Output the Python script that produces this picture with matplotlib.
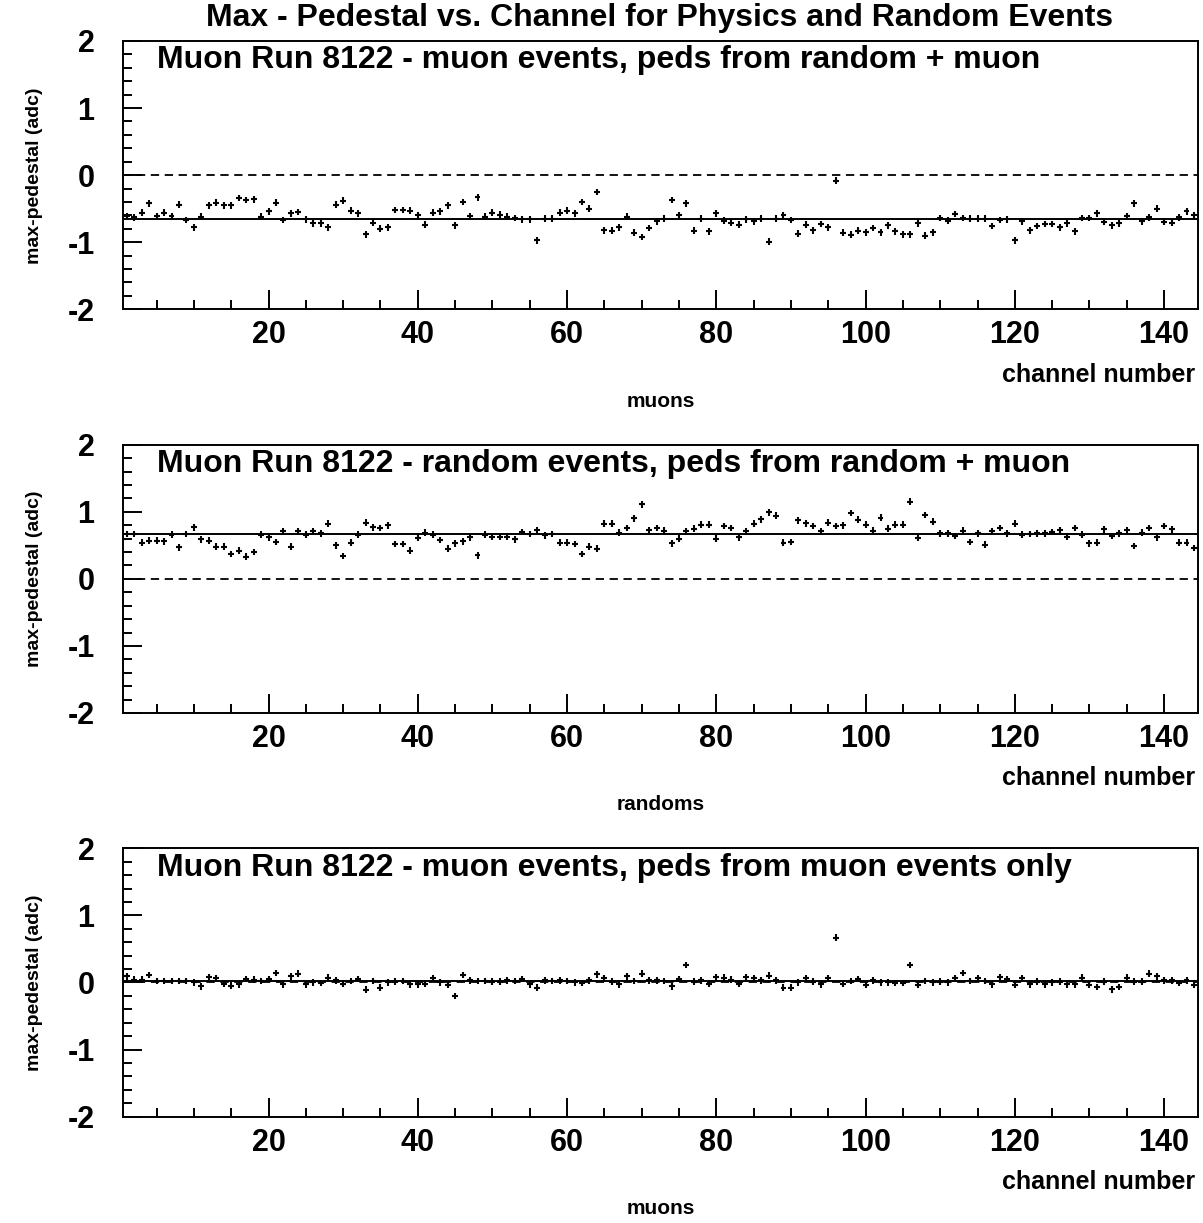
import matplotlib
matplotlib.use("Agg")
import matplotlib.pyplot as plt
import numpy as np
from matplotlib.ticker import MultipleLocator

plt.rcParams['font.family'] = ['Liberation Sans', 'DejaVu Sans']
plt.rcParams['font.weight'] = 'bold'
plt.rcParams['axes.unicode_minus'] = False

# --- data (max - pedestal per channel) ---
channels = np.arange(1, 145)

muon_rand_peds = [
    -0.61, -0.63, -0.56, -0.42, -0.61, -0.56, -0.61, -0.44, -0.67, -0.78,
    -0.62, -0.45, -0.41, -0.45, -0.45, -0.34, -0.37, -0.36, -0.62, -0.54,
    -0.41, -0.67, -0.57, -0.55, -0.66, -0.72, -0.72, -0.78, -0.44, -0.38,
    -0.53, -0.57, -0.88, -0.71, -0.80, -0.78, -0.52, -0.52, -0.53, -0.60,
    -0.74, -0.56, -0.54, -0.45, -0.75, -0.40, -0.61, -0.33, -0.62, -0.56,
    -0.59, -0.62, -0.64, -0.66, -0.66, -0.97, -0.65, -0.65, -0.56, -0.53,
    -0.57, -0.40, -0.50, -0.25, -0.82, -0.83, -0.78, -0.62, -0.86, -0.92,
    -0.79, -0.69, -0.65, -0.37, -0.60, -0.42, -0.83, -0.65, -0.84, -0.57,
    -0.68, -0.71, -0.74, -0.66, -0.69, -0.65, -0.99, -0.65, -0.60, -0.67,
    -0.87, -0.74, -0.82, -0.73, -0.78, -0.08, -0.86, -0.89, -0.83, -0.85,
    -0.79, -0.85, -0.75, -0.84, -0.88, -0.88, -0.72, -0.90, -0.85, -0.64,
    -0.68, -0.58, -0.64, -0.65, -0.65, -0.65, -0.76, -0.67, -0.66, -0.97,
    -0.69, -0.82, -0.76, -0.73, -0.73, -0.78, -0.72, -0.84, -0.64, -0.64,
    -0.57, -0.70, -0.75, -0.72, -0.61, -0.42, -0.69, -0.63, -0.50, -0.70,
    -0.71, -0.63, -0.54, -0.60,
]

random_rand_peds = [
    0.67, 0.67, 0.54, 0.57, 0.57, 0.56, 0.66, 0.47, 0.67, 0.77,
    0.59, 0.57, 0.48, 0.48, 0.37, 0.42, 0.33, 0.40, 0.66, 0.62,
    0.55, 0.71, 0.48, 0.71, 0.66, 0.71, 0.68, 0.82, 0.50, 0.34,
    0.54, 0.66, 0.84, 0.77, 0.76, 0.80, 0.52, 0.52, 0.42, 0.61,
    0.69, 0.66, 0.58, 0.45, 0.53, 0.56, 0.62, 0.35, 0.66, 0.63,
    0.63, 0.63, 0.59, 0.70, 0.67, 0.73, 0.65, 0.67, 0.54, 0.54,
    0.52, 0.37, 0.48, 0.45, 0.82, 0.82, 0.69, 0.76, 0.90, 1.11,
    0.73, 0.76, 0.72, 0.53, 0.60, 0.71, 0.75, 0.81, 0.81, 0.60,
    0.79, 0.76, 0.62, 0.71, 0.82, 0.89, 0.99, 0.94, 0.54, 0.55,
    0.87, 0.83, 0.79, 0.71, 0.84, 0.79, 0.80, 0.98, 0.88, 0.81,
    0.72, 0.91, 0.75, 0.81, 0.81, 1.15, 0.61, 0.95, 0.85, 0.68,
    0.68, 0.64, 0.72, 0.55, 0.68, 0.51, 0.71, 0.76, 0.68, 0.82,
    0.66, 0.67, 0.68, 0.68, 0.70, 0.73, 0.63, 0.76, 0.66, 0.53,
    0.54, 0.74, 0.64, 0.68, 0.73, 0.49, 0.69, 0.76, 0.62, 0.79,
    0.74, 0.54, 0.54, 0.46,
]

muon_muon_peds = [
    0.09, 0.04, 0.04, 0.11, 0.02, 0.02, 0.02, 0.02, 0.02, 0.00,
    -0.06, 0.08, 0.06, -0.02, -0.05, -0.03, 0.05, 0.04, 0.02, 0.05,
    0.14, -0.03, 0.09, 0.13, -0.03, 0.00, -0.01, 0.07, 0.03, -0.02,
    0.02, 0.05, -0.11, 0.02, -0.08, 0.00, 0.01, 0.02, -0.03, -0.03,
    -0.02, 0.06, 0.00, -0.04, -0.20, 0.11, 0.03, 0.02, 0.02, 0.01,
    0.01, 0.03, 0.02, 0.05, -0.03, -0.08, 0.03, 0.02, 0.03, 0.02,
    0.00, -0.01, 0.03, 0.12, 0.06, 0.01, -0.03, 0.09, 0.02, 0.13,
    0.03, 0.03, 0.02, -0.06, 0.05, 0.26, 0.01, 0.03, -0.02, 0.08,
    0.07, 0.04, -0.02, 0.08, 0.06, 0.03, 0.10, 0.03, -0.08, -0.08,
    0.00, 0.06, 0.01, -0.03, 0.06, 0.67, -0.02, 0.02, 0.05, -0.04,
    0.03, 0.00, 0.00, -0.01, -0.01, 0.26, -0.04, 0.02, 0.00, 0.01,
    0.00, 0.06, 0.14, 0.02, 0.06, 0.02, -0.03, 0.08, 0.05, -0.04,
    0.06, -0.03, 0.01, -0.03, 0.00, 0.01, -0.03, -0.03, 0.07, -0.04,
    -0.07, 0.01, -0.10, -0.07, 0.07, 0.01, 0.01, 0.13, 0.09, 0.03,
    0.03, -0.01, 0.03, -0.04,
]

fit_values = [-0.652, 0.667, 0.025]
panel_texts = [
    'Muon Run 8122 - muon events, peds from random + muon',
    'Muon Run 8122 - random events, peds from random + muon',
    'Muon Run 8122 - muon events, peds from muon events only',
]
sub_labels = ['muons', 'randoms', 'muons']
series = [muon_rand_peds, random_rand_peds, muon_muon_peds]

W, H = 1203, 1223
fig = plt.figure(figsize=(W / 100, H / 100), dpi=100)

left = 123 / W
width = (1197.7 - 123) / W
ph = 268.3 / H
bottoms_px = [309.3, 713.0, 1116.6]

for i, (vals, fit, txt, sub, bpx) in enumerate(
        zip(series, fit_values, panel_texts, sub_labels, bottoms_px)):
    ax = fig.add_axes([left, 1 - bpx / H, width, ph])
    ax.set_xlim(0.5, 144.5)
    ax.set_ylim(-2, 2)

    ax.errorbar(channels, vals, xerr=0.4, yerr=0.05, fmt='none',
                ecolor='black', elinewidth=1.5, capsize=0)
    ax.plot([0.5, 144.5], [fit, fit], color='black', lw=1.4)
    ax.plot([0.5, 144.5], [0, 0], color='black', lw=1.3, dashes=(4.6, 3.1))

    ax.xaxis.set_major_locator(MultipleLocator(20))
    ax.xaxis.set_minor_locator(MultipleLocator(5))
    ax.yaxis.set_major_locator(MultipleLocator(1))
    ax.yaxis.set_minor_locator(MultipleLocator(0.2))
    ax.tick_params(which='both', direction='in', top=False, right=False,
                   width=1.4, labelsize=22)
    ax.tick_params(which='major', length=13.5)
    ax.tick_params(which='minor', length=6.5)
    ax.tick_params(axis='y', pad=20.5)
    ax.tick_params(axis='x', pad=8)
    for lab in ax.get_xticklabels() + ax.get_yticklabels():
        lab.set_fontweight('bold')
    for s in ax.spines.values():
        s.set_linewidth(1.4)

    ax.text(0.0316, 0.898, txt, transform=ax.transAxes, fontsize=23,
            fontweight='bold', va='baseline', ha='left')

    # axis titles
    fig.text(1195 / W, 1 - (bpx + 72.4) / H, 'channel number', fontsize=18,
             fontweight='bold', ha='right', va='baseline')
    fig.text((123 + 1197.7) / 2 / W, 1 - (bpx + 92) / H, sub, fontsize=15,
             fontweight='bold', ha='center', va='center')
    fig.text(35 / W, 1 - (bpx - 134) / H, 'max-pedestal (adc)', fontsize=14,
             fontweight='bold', rotation=90, ha='center', va='center')

fig.text(660 / W, 1 - 18 / H,
         'Max - Pedestal vs. Channel for Physics and Random Events',
         fontsize=23, fontweight='bold', ha='center', va='center')

fig.savefig('out.png', dpi=100)
